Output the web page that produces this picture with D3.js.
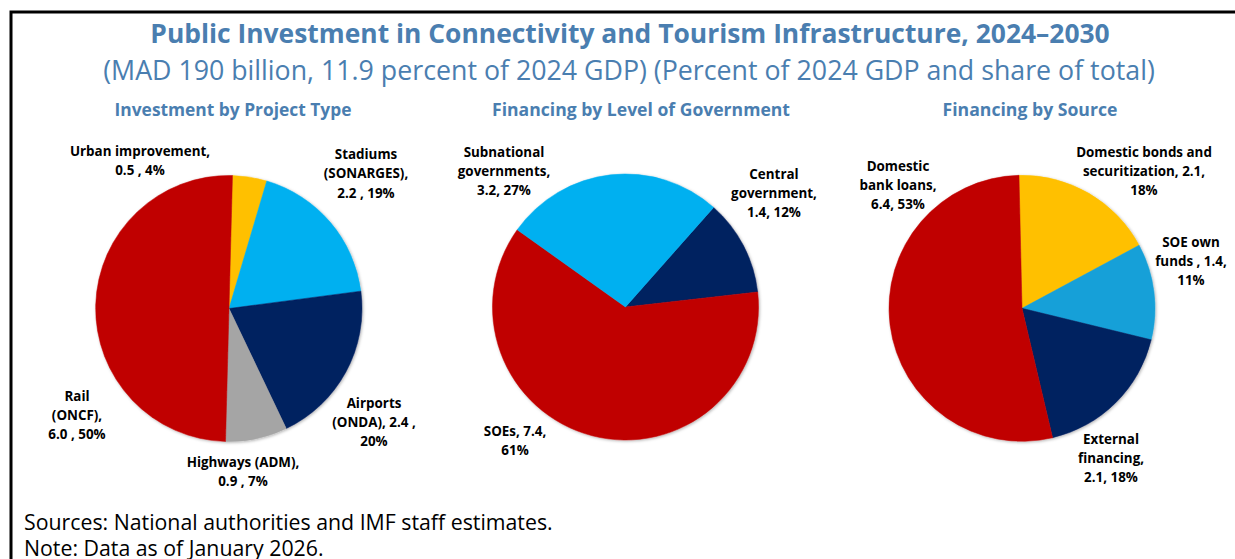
<!DOCTYPE html>
<html>
<head>
<meta charset="utf-8">
<script src="https://cdn.jsdelivr.net/npm/d3@7/dist/d3.min.js"></script>
<style>
  html, body { margin: 0; padding: 0; background: #fff; }
  svg { display: block; font-family: "Open Sans", "Noto Sans", sans-serif; }
  .label { font-weight: 700; font-size: 13.4px; fill: #000; }
  .panel-title { font-weight: 700; fill: #4a7eb0; }
</style>
</head>
<body>
<svg id="chart"></svg>
<script>
// Data
const projectTypes = ["Urban improvement", "Stadiums (SONARGES)", "Airports (ONDA)", "Highways (ADM)", "Rail (ONCF)"];
const projectValues = [0.5, 2.2, 2.4, 0.9, 6.0];
const projectShares = [4, 19, 20, 7, 50];
const projectLabels = [
  ["Urban improvement,", "0.5 , 4%"],
  ["Stadiums", "(SONARGES),", "2.2 , 19%"],
  ["Airports", "(ONDA),  2.4 ,", "20%"],
  ["Highways (ADM),", "0.9 , 7%"],
  ["Rail", "(ONCF),", "6.0 , 50%"]
];

const governmentLevels = ["Central government", "SOEs", "Subnational governments"];
const governmentValues = [1.4, 7.4, 3.2];
const governmentShares = [12, 61, 27];
const governmentLabels = [
  ["Central", "government,", "1.4, 12%"],
  ["SOEs, 7.4,", "61%"],
  ["Subnational", "governments,", "3.2, 27%"]
];

const sources = ["Domestic bonds and securitization", "SOE own funds", "External financing", "Domestic bank loans"];
const sourceValues = [2.1, 1.4, 2.1, 6.4];
const sourceShares = [18, 11, 18, 53];
const sourceLabels = [
  ["Domestic bonds and", "securitization, 2.1,", "18%"],
  ["SOE own", "funds , 1.4,", "11%"],
  ["External", "financing,", "2.1, 18%"],
  ["Domestic", "bank loans,", "6.4, 53%"]
];

const width = 1235, height = 559;
const blue = "#4a7eb0";
const deg = Math.PI / 180;

const svg = d3.select("#chart").attr("width", width).attr("height", height);
svg.append("rect").attr("width", width).attr("height", height).attr("fill", "#fff");

// soft shadow on the pies, like the Excel original
const defs = svg.append("defs");
defs.append("filter").attr("id", "shadow")
  .attr("x", "-10%").attr("y", "-10%").attr("width", "120%").attr("height", "120%")
  .append("feDropShadow")
  .attr("dx", 1).attr("dy", 1).attr("stdDeviation", 1.5)
  .attr("flood-color", "#000").attr("flood-opacity", 0.3);

// frame (left and top only)
svg.append("path")
  .attr("d", `M11,${height} V12 H${width}`)
  .attr("fill", "none").attr("stroke", "#000").attr("stroke-width", 3);

// scale a text element so it takes a given width
function fitWidth(sel, target) {
  const fs = parseFloat(sel.attr("font-size"));
  const w = sel.node().getComputedTextLength();
  sel.attr("font-size", (fs * target / w).toFixed(2));
}

const title = svg.append("text")
  .attr("x", 630).attr("y", 43).attr("text-anchor", "middle")
  .attr("font-size", 24).attr("font-weight", 700).attr("fill", blue)
  .text("Public Investment in Connectivity and Tourism Infrastructure, 2024\u20132030");
fitWidth(title, 960);

const subtitle = svg.append("text")
  .attr("x", 629).attr("y", 80).attr("text-anchor", "middle")
  .attr("font-size", 24).attr("fill", blue)
  .text("(MAD 190 billion, 11.9 percent of 2024 GDP) (Percent of 2024 GDP and share of total)");
fitWidth(subtitle, 1052);

const panels = [
  { title: "Investment by Project Type", tx: 233, tw: 237, cx: 229, cy: 308.5, start: 1.5,
    names: projectTypes, values: projectValues, shares: projectShares, labels: projectLabels,
    colors: ["#ffc000", "#00b0f0", "#002060", "#a5a5a5", "#c00000"],
    lineH: 19.3,
    pos: [[-89, -152.5], [137, -149.5], [145, 99], [14, 158.5], [-152, 92]] },
  { title: "Financing by Level of Government", tx: 641, tw: 298, cx: 625.5, cy: 307, start: 41.5,
    names: governmentLevels, values: governmentValues, shares: governmentShares, labels: governmentLabels,
    colors: ["#002060", "#c00000", "#00b0f0"],
    lineH: 18.8,
    pos: [[148.5, -128], [-110.5, 129], [-121.5, -150]] },
  { title: "Financing by Source", tx: 1030, tw: 175, cx: 1022, cy: 308.3, start: -1.3,
    names: sources, values: sourceValues, shares: sourceShares, labels: sourceLabels,
    colors: ["#ffc000", "#14a0d8", "#002060", "#c00000"],
    lineH: 19,
    pos: [[122, -151], [169, -61.6], [89, 135.7], [-124, -137.6]] }
];

const radius = 133;
const arc = d3.arc().innerRadius(0).outerRadius(radius);

panels.forEach((p) => {
  const pt = svg.append("text")
    .attr("class", "panel-title")
    .attr("x", p.tx).attr("y", 116).attr("text-anchor", "middle")
    .attr("font-size", 15.5)
    .text(p.title);
  fitWidth(pt, p.tw);

  const pie = d3.pie().sort(null)
    .startAngle(p.start * deg)
    .endAngle(p.start * deg + 2 * Math.PI);
  const arcs = pie(p.values);

  const g = svg.append("g").attr("transform", `translate(${p.cx},${p.cy})`);
  g.append("g").attr("filter", "url(#shadow)")
    .selectAll("path")
    .data(arcs)
    .join("path")
    .attr("d", arc)
    .attr("fill", (d, i) => p.colors[i])
    .attr("stroke", (d, i) => p.colors[i])
    .attr("stroke-width", 0.5);

  const lg = g.selectAll("text.label")
    .data(arcs)
    .join("text")
    .attr("class", "label")
    .attr("text-anchor", "middle")
    .attr("x", (d, i) => p.pos[i][0])
    .attr("y", (d, i) => p.pos[i][1]);
  lg.selectAll("tspan")
    .data((d, i) => p.labels[i])
    .join("tspan")
    .attr("x", function () { return d3.select(this.parentNode).attr("x"); })
    .attr("dy", (d, j) => (j === 0 ? 0 : p.lineH))
    .text((d) => d);
});

const src = svg.append("text")
  .attr("x", 24).attr("y", 530).attr("font-size", 19).attr("fill", "#000")
  .text("Sources: National authorities and IMF staff estimates.");
fitWidth(src, 529);
const note = svg.append("text")
  .attr("x", 24).attr("y", 556).attr("font-size", 19).attr("fill", "#000")
  .text("Note: Data as of January 2026.");
note.attr("font-size", src.attr("font-size"));
</script>
</body>
</html>
